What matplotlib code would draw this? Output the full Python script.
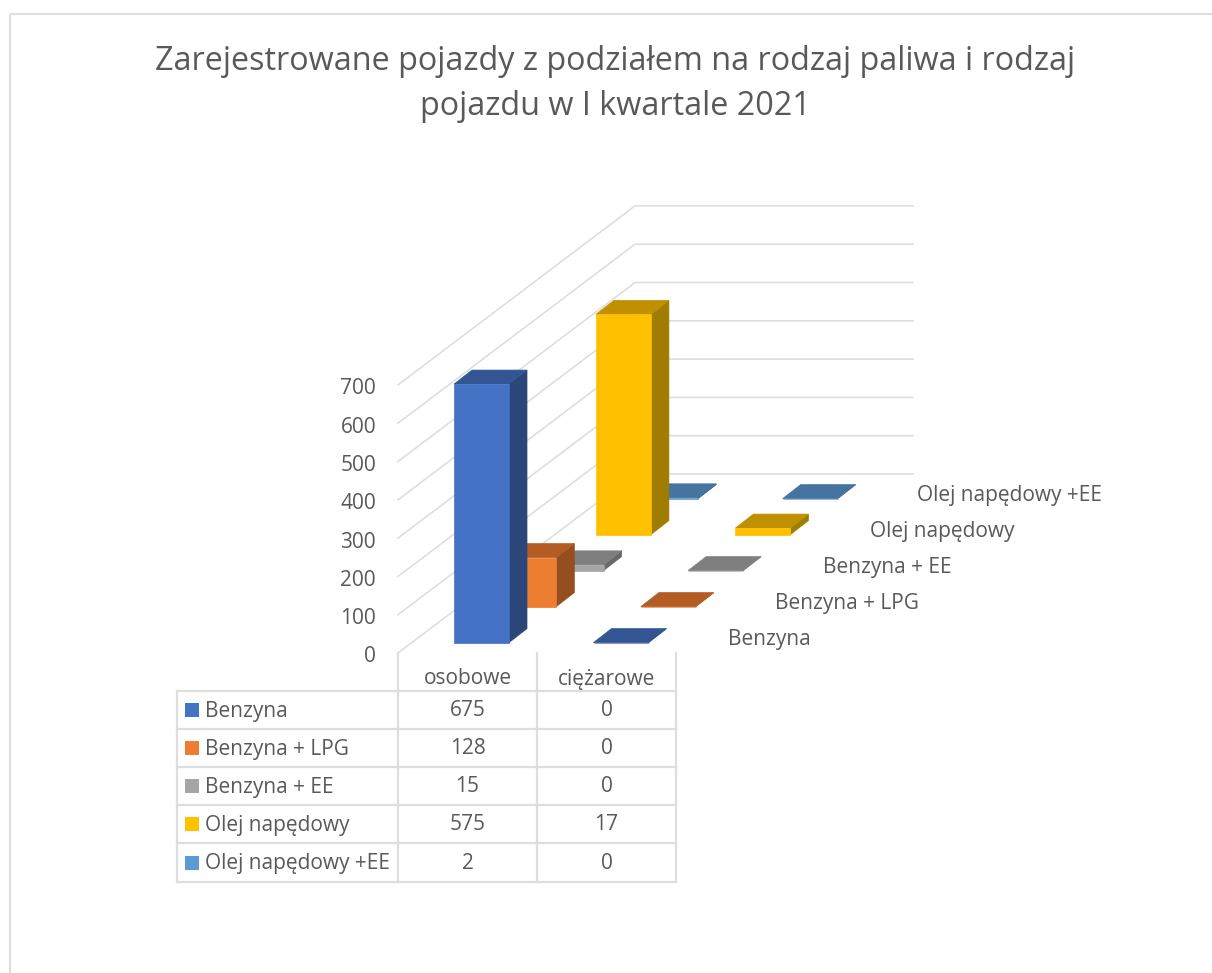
import matplotlib
matplotlib.use('Agg')
import matplotlib.pyplot as plt
from matplotlib.patches import Polygon, Rectangle

plt.rcParams['font.family'] = ['Open Sans', 'DejaVu Sans']

title = 'Zarejestrowane pojazdy z podziałem na rodzaj paliwa i rodzaj\npojazdu w I kwartale 2021'
categories = ['osobowe', 'ciężarowe']
series = ['Benzyna', 'Benzyna + LPG', 'Benzyna + EE', 'Olej napędowy', 'Olej napędowy +EE']
osobowe = [675, 128, 15, 575, 2]
ciezarowe = [0, 0, 0, 17, 0]
y_ticks = [0, 100, 200, 300, 400, 500, 600, 700]

front_colors = ['#4472C4', '#ED7D31', '#A5A5A5', '#FFC000', '#5B9BD5']
top_colors = ['#335593', '#B35D25', '#7F7F7F', '#C09000', '#44749F']
side_colors = ['#2B4678', '#944E1F', '#686868', '#A07C00', '#3A6A94']
text_color = '#595959'
line_color = '#DEDEDE'
label_size = 15

# pixel layout of the excel 3d projection
x0, y0 = 454, 642.6
bar_w = 55
cat_step = 139.5
ser_dx, ser_dy = 47.3, -36
depth_dx, depth_dy = 18, -14
px_per_unit = 0.383
wall_x, wall_y = 398, 653
corner_dx, corner_dy = 237, -179
wall_right = 913
table_x = [177, 398, 537, 676]
table_y = [691, 729, 767, 805, 843, 882]

fig = plt.figure(figsize=(12.12, 9.73), dpi=100)
ax = fig.add_axes([0, 0, 1, 1])
ax.set_xlim(0, 1212)
ax.set_ylim(973, 0)
ax.axis('off')

ax.add_patch(Rectangle((10, 14), 1300, 1100, fill=False, ec=line_color, lw=1.5))

ax.text(615.5, 84, title, ha='center', va='center', fontsize=23.3, color=text_color, linespacing=1.47)

# walls
for t in y_ticks:
    yy = wall_y - t * px_per_unit
    ax.plot([wall_x, wall_x + corner_dx, wall_right], [yy, yy + corner_dy, yy + corner_dy],
            color=line_color, lw=1.2, zorder=1)
    ax.text(376, yy + 4, str(t), ha='right', va='center', fontsize=label_size, color=text_color)


def draw_bar(c, s, value, z):
    left = x0 + c * cat_step + s * ser_dx
    right = left + bar_w
    base = y0 + s * ser_dy
    top = base - value * px_per_unit
    edge = {'lw': 0.5, 'zorder': z}
    ax.add_patch(Polygon([(right, base), (right + depth_dx, base + depth_dy),
                          (right + depth_dx, top + depth_dy), (right, top)],
                         fc=side_colors[s], ec=side_colors[s], **edge))
    ax.add_patch(Polygon([(left, top), (right, top), (right + depth_dx, top + depth_dy),
                          (left + depth_dx, top + depth_dy)],
                         fc=top_colors[s], ec=top_colors[s], **edge))
    ax.add_patch(Rectangle((left, top), bar_w, base - top,
                           fc=front_colors[s], ec=front_colors[s], **edge))


z = 2
for s in range(len(series) - 1, -1, -1):
    draw_bar(1, s, ciezarowe[s], z)
    z += 1
    draw_bar(0, s, osobowe[s], z)
    z += 1

# depth axis labels
for s, name in enumerate(series):
    ax.text(728 + s * ser_dx, 639.5 + s * ser_dy, name, ha='left', va='center', fontsize=label_size, color=text_color)

# data table
for xx in table_x[1:]:
    ax.plot([xx, xx], [wall_y, table_y[-1]], color=line_color, lw=1.6, zorder=1)
ax.plot([table_x[0], table_x[0]], [table_y[0], table_y[-1]], color=line_color, lw=1.6, zorder=1)
for yy in table_y:
    ax.plot([table_x[0], table_x[-1]], [yy, yy], color=line_color, lw=1.6, zorder=1)

for c, name in enumerate(categories):
    ax.text((table_x[c + 1] + table_x[c + 2]) / 2, 679, name, ha='center', va='center', fontsize=label_size, color=text_color)

for s, name in enumerate(series):
    yc = (table_y[s] + table_y[s + 1]) / 2
    ax.add_patch(Rectangle((185, yc - 7), 14, 14, fc=front_colors[s], ec='none', zorder=3))
    ax.text(205, yc + 1, name, ha='left', va='center', fontsize=label_size, color=text_color)
    ax.text((table_x[1] + table_x[2]) / 2, yc + 1, str(osobowe[s]), ha='center', va='center', fontsize=label_size, color=text_color)
    ax.text((table_x[2] + table_x[3]) / 2, yc + 1, str(ciezarowe[s]), ha='center', va='center', fontsize=label_size, color=text_color)

fig.savefig('out.png', dpi=100)
